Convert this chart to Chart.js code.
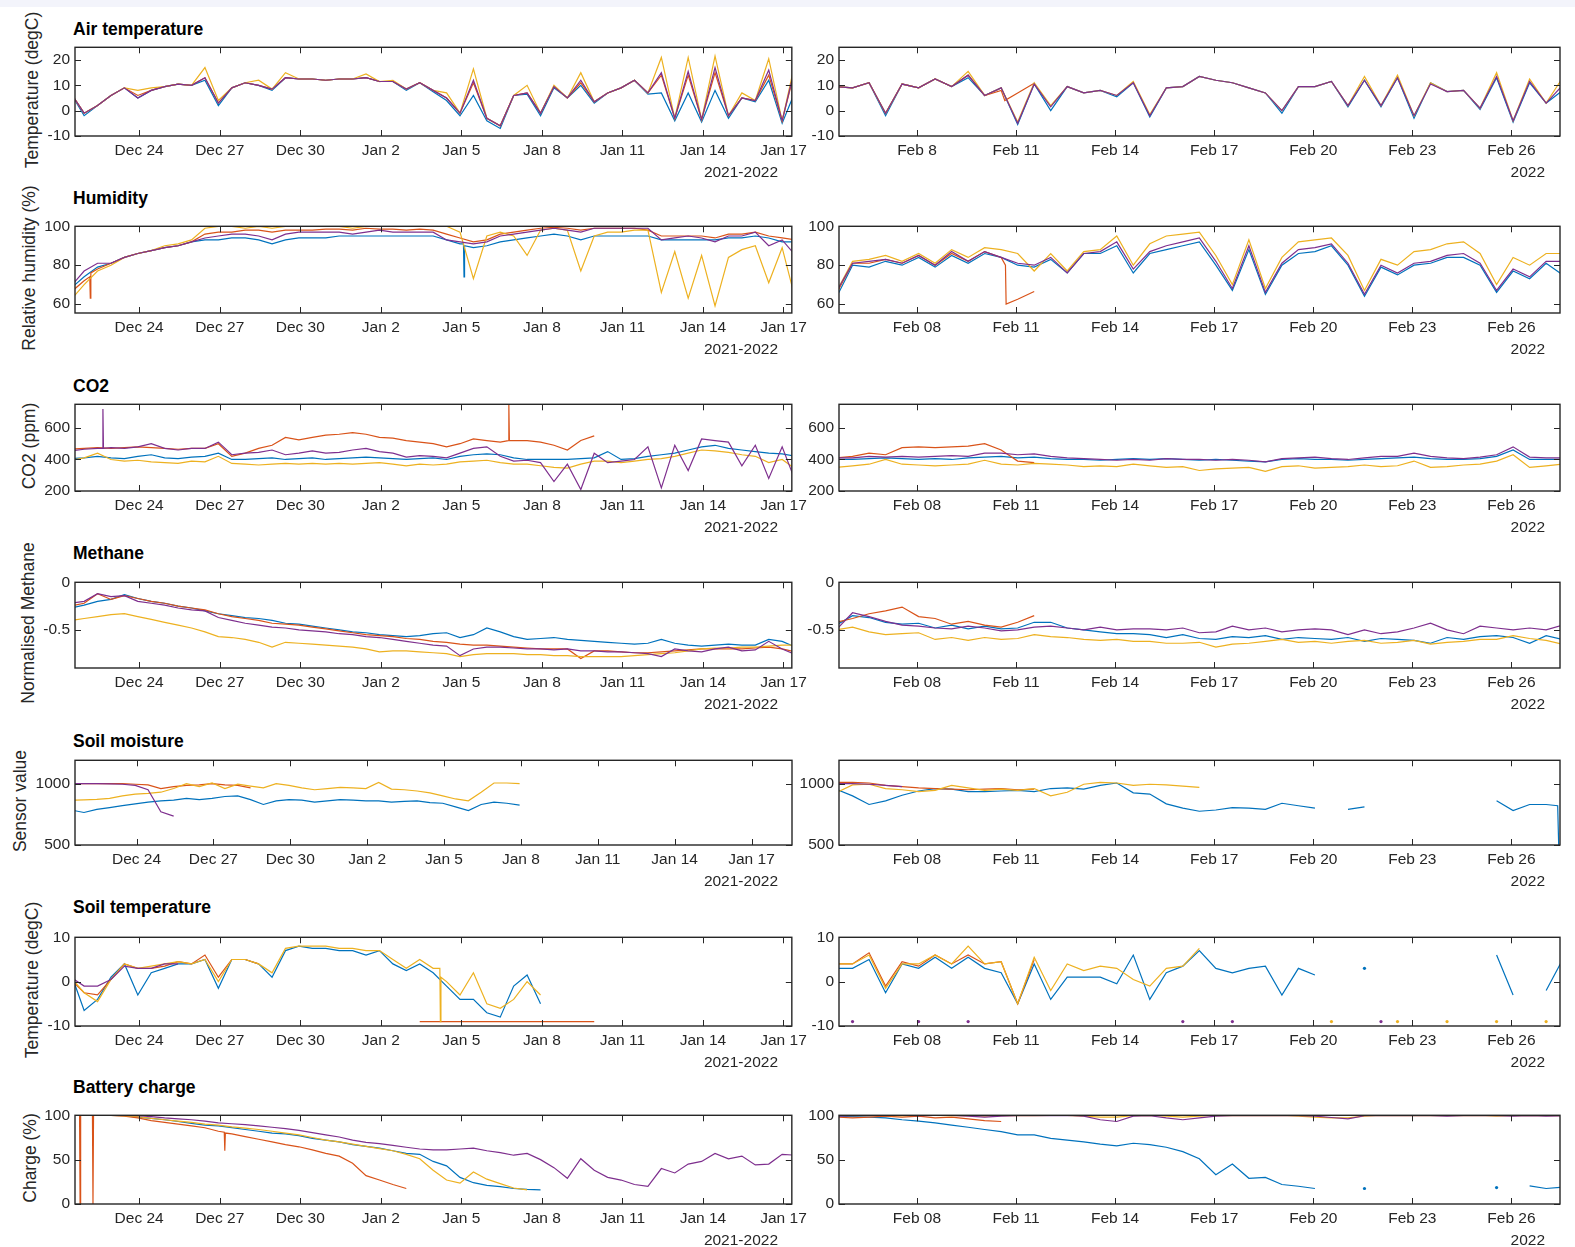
<!DOCTYPE html>
<html>
<head>
<meta charset="utf-8">
<script src="https://cdn.jsdelivr.net/npm/chart.js@4.4.1/dist/chart.umd.min.js"></script>
<style>
body { margin:0; width:1575px; height:1247px; background:#fff; position:relative; overflow:hidden; font-family:"Liberation Sans", Arial, sans-serif; }
.topbar { position:absolute; left:0; top:0; width:1575px; height:7px; background:#f3f4fb; }
canvas { position:absolute; }
.ttl { position:absolute; left:73px; font-weight:bold; font-size:17.5px; color:#000; transform:translateY(-50%); white-space:nowrap; }
.ylab { position:absolute; font-size:17.5px; color:#262626; white-space:nowrap; transform:translate(-50%,-50%) rotate(-90deg); }
.yr { position:absolute; font-size:15.5px; color:#262626; transform:translateY(-50%); white-space:nowrap; }
</style>
</head>
<body>
<div class="topbar"></div>
<script>
// sample times in days from 1 Jan 2022 (left: Dec-Jan, right: February)
const leftTimes = [-10.55,-10.05,-9.55,-9.05,-8.55,-8.05,-7.55,-7.05,-6.55,-6.05,-5.55,-5.05,-4.55,-4.05,-3.55,-3.05,-2.55,-2.05,-1.55,-1.05,-0.55,-0.05,0.45,0.95,1.45,1.95,2.45,2.95,3.45,3.95,4.45,4.95,5.45,5.95,6.45,6.95,7.45,7.95,8.45,8.95,9.45,9.95,10.45,10.95,11.45,11.95,12.45,12.95,13.45,13.95,14.45,14.95,15.45,15.95,16.45];
const rightTimes = [35.55,36.05,36.55,37.05,37.55,38.05,38.55,39.05,39.55,40.05,40.55,41.05,41.55,42.05,42.55,43.05,43.55,44.05,44.55,45.05,45.55,46.05,46.55,47.05,47.55,48.05,48.55,49.05,49.55,50.05,50.55,51.05,51.55,52.05,52.55,53.05,53.55,54.05,54.55,55.05,55.55,56.05,56.55,57.05,57.55];

const leftTickVals = [-8,-5,-2,1,4,7,10,13,16];
const leftTickLabels = ['Dec 24','Dec 27','Dec 30','Jan 2','Jan 5','Jan 8','Jan 11','Jan 14','Jan 17'];
const rightTickVals = [38,41,44,47,50,53,56];
const rightTickLabels = ['Feb 08','Feb 11','Feb 14','Feb 17','Feb 20','Feb 23','Feb 26'];
const rightTickLabelsAir = ['Feb 8','Feb 11','Feb 14','Feb 17','Feb 20','Feb 23','Feb 26'];

// Air temperature
const airL_blue = [7,-2,2,6,9,5,8,9.5,10.5,10,12,2,9,11,10,8,13,12.5,12.5,12,12.5,12.5,13,11.5,11.5,8,11,7.5,4,-2,6,-4,-7,6,6.5,-2,9,5,10,3,7,9,12,6.5,7,-4,7,-4.5,8,-3,5,3.5,12,-5,8];
const airL_orange = [7,-1,2,6,9,6,8,9.5,10.5,10,13,3,9,11,10,8.5,13,12.5,12.5,12,12.5,12.5,13,11.5,11.5,8.5,11,8,5,-1,11,-3,-6,6,7,-1,9.5,5,11,3.5,7,9,12,7,14,-3,14,-3.5,15,-2,5,4,14,-4,17];
const airL_yellow = [7,-1,2,6,9,8,9,9.5,10.5,10,17,4,9,11,12,8.5,15,12.5,12.5,12,12.5,12.5,14.5,11.5,12,8.5,11,8,7,-1,16.5,-3,-6,6,10,-1,10,5,15,3.5,7,9,12,7,21,-3,21,-3.5,21.5,-2,7,4,20.5,-4,20];
const airL_purple = [7,-1,2,6,9,5,8,9.5,10.5,10,13,3,9,11,10,8.5,13,12.5,12.5,12,12.5,12.5,13,11.5,11.5,8.5,11,8,5,-1,12,-3,-6,6,7,-1,9.5,5,12,3.5,7,9,12,7,15,-3,15.5,-3.5,17,-2,5,4,16,-4,18];
const airR_blue = [9.5,9,11,-2,10.5,9,12.5,9.5,13,6,9,-5.5,10.5,0,9.5,7,8,5.5,11,-2.5,9,9.5,13.5,12,11,9,7,-1,9.5,9.5,11.5,1.5,12,1.5,13,-3,11,7.5,8,0.5,13,-4.5,11,3,8];
const airR_orange = [9.5,9,11,-1,10.5,9,12.5,9.5,14,6,8,7,10.8];
const airR_orangeExtra = [[40.66,4]];
const airR_yellow = [9.5,9,11,-1,10.5,9,12.5,9.5,15.5,6,9,-4.5,11,2,9.5,7,8,6,11.5,-1.5,9,9.5,13.5,12,11,9,7,0,9.5,9.5,11.5,2,13.5,2,14,-2,11,7.5,8,1,15,-4,12.5,3,13];
const airR_purple = [9.5,9,11,-1,10.5,9,12.5,9.5,14,6,9,-5,10.5,1.5,9.5,7,8,6,11,-2,9,9.5,13.5,12,11,9,7,0,9.5,9.5,11.5,2,12,2,13,-2,10.5,7.5,8,1,13.5,-4,11.5,3,10];

// Humidity
const humL_blue = [68,74,79,81,84,86,87.5,89,90,92,93,93,94,94,93,91,93,94,94,94,95,95,95,95,95,95,95,95,93,91,89,90,92,93,94,95,96,95,93,95,95,95,95,95,93,93,93,93,93,94,94,95,94,92,92];
const humL_blueExtra = [[4.08,91],[4.10,74],[4.12,90]];
const humL_orange = [66,72,78,81,84,86,87.5,89,90,92,96,97,97,98,98,97,98,98,98,98.5,98.5,98,99,98.5,98.5,98,98.5,98,96,94,92,93,96,97,98,99,99.5,99,98,99,99,99,99,98,95,95,95,95,94,96,96,97,95,94,93];
const humL_orangeExtra = [[-9.84,74],[-9.82,63],[-9.80,76]];
const humL_yellow = [62,70,77,80,84,86,87.5,90,91,93,99,100,100,99,100,99,100,100,100,100,100,99,100,100,100,100,100,100,100,97,73,95,97,95,85,98,99,98,77,95,97,97,98,98,66,87,63,85,59,84,88,90,71,89,62];
const humL_purple = [69,77,81,81,84,86,87.5,89,90,92,94,95,96,96,95,93,96,97,97,97,97,96,97,98,97,97,97,97,93,92,91,92,95,96,97,98,99,98,97,99,99,99,99,99,93,94,95,94,92,95,95,97,90,93,85];
const humR_blue = [63,80,79,82,80,84,79,85,81,86,84,80,79,83,76,86,86,90,76,86,88,90,92,80,67,88,65,80,86,87,90,80,64,79,75,80,81,84,84,80,66,77,73,81,75];
const humR_orange = [65,81,81,83,81,85,80,86,82,87,84,62.5,66.5];
const humR_orangeExtra = [[40.68,80],[40.70,60]];
const humR_yellow = [66,82,83,85,82,86,81,88,84,89,88,86,77,86,77,87,88,95,80,91,95,96,97,85,70,93,68,84,92,93,94,85,67,83,80,87,88,91,92,86,70,84,80,86,86];
const humR_purple = [66,81,82,83,81,85,80,87,82,87,84,81,80,84,76,86,87,92,78,87,90,92,94,82,68,90,66,81,88,89,91,81,65,80,76,81,82,85,86,81,67,78,74,82,82];

// CO2
const co2L_blue = [405,410,420,410,405,420,430,410,405,415,420,440,400,400,405,410,400,405,410,400,405,410,415,410,405,400,405,410,400,420,430,435,430,410,400,400,400,400,405,410,450,400,405,420,430,440,460,480,490,470,460,450,440,435,420];
const co2L_orange = [465,470,475,470,475,480,475,470,465,470,470,500,420,440,470,490,540,525,540,555,560,570,560,540,535,520,510,500,480,500,530,520,510,520,520,510,490,460,520,550];
const co2L_orangeExtra = [[5.75,520],[5.77,750],[5.79,520]];
const co2L_yellow = [395,410,440,400,390,395,385,380,375,390,385,420,375,370,365,370,375,370,375,370,375,370,375,380,370,360,370,365,370,385,390,395,380,370,370,360,350,345,370,390,390,380,390,400,405,420,440,460,455,445,430,420,380,400,340];
const co2L_purple = [455,465,470,475,470,480,500,470,460,470,470,510,430,440,445,460,430,440,455,440,445,460,470,450,440,415,425,420,410,440,470,480,420,390,395,380,260,370,210,440,380,390,400,480,220,490,330,530,520,510,360,490,280,480,260];
const co2L_purpleExtra = [[-9.37,470],[-9.35,720],[-9.33,470]];
const co2R_blue = [400,400,405,410,405,400,405,400,410,415,420,410,415,405,400,400,395,400,405,400,405,400,395,400,395,390,385,400,405,400,400,395,400,405,410,415,405,400,400,405,420,460,400,400,400];
const co2R_orange = [410,420,440,430,475,480,475,480,485,500,460,390,380];
const co2R_yellow = [350,360,370,400,370,365,360,365,370,395,370,365,375,370,365,355,360,355,370,360,350,355,330,340,345,350,325,355,360,345,350,355,365,355,360,390,350,355,365,370,390,430,350,360,370];
const co2R_purple = [410,410,420,415,420,415,420,425,420,440,440,430,435,420,410,405,400,395,400,395,405,400,400,395,400,395,385,405,410,415,405,400,410,420,420,440,420,410,405,415,430,480,415,410,410];

// Methane
const methL_blue = [-0.27,-0.24,-0.2,-0.18,-0.13,-0.17,-0.2,-0.22,-0.25,-0.27,-0.3,-0.33,-0.35,-0.37,-0.38,-0.4,-0.43,-0.44,-0.46,-0.48,-0.5,-0.52,-0.53,-0.55,-0.56,-0.57,-0.56,-0.54,-0.53,-0.58,-0.55,-0.48,-0.52,-0.57,-0.6,-0.59,-0.58,-0.6,-0.61,-0.62,-0.63,-0.64,-0.65,-0.64,-0.6,-0.64,-0.66,-0.67,-0.66,-0.65,-0.66,-0.66,-0.6,-0.62,-0.68];
const methL_orange = [-0.25,-0.22,-0.12,-0.18,-0.14,-0.17,-0.2,-0.22,-0.25,-0.27,-0.29,-0.33,-0.36,-0.38,-0.4,-0.43,-0.44,-0.45,-0.47,-0.49,-0.51,-0.53,-0.55,-0.56,-0.57,-0.59,-0.6,-0.62,-0.63,-0.65,-0.66,-0.66,-0.67,-0.68,-0.69,-0.7,-0.7,-0.7,-0.8,-0.72,-0.72,-0.73,-0.74,-0.74,-0.73,-0.72,-0.71,-0.7,-0.7,-0.7,-0.7,-0.69,-0.68,-0.7,-0.73];
const methL_yellow = [-0.4,-0.38,-0.36,-0.34,-0.33,-0.36,-0.39,-0.42,-0.45,-0.48,-0.52,-0.57,-0.58,-0.6,-0.63,-0.68,-0.63,-0.64,-0.65,-0.66,-0.67,-0.68,-0.7,-0.73,-0.72,-0.72,-0.73,-0.74,-0.75,-0.78,-0.76,-0.75,-0.75,-0.75,-0.76,-0.76,-0.77,-0.77,-0.78,-0.78,-0.78,-0.78,-0.77,-0.76,-0.75,-0.74,-0.72,-0.7,-0.69,-0.69,-0.68,-0.68,-0.67,-0.66,-0.66];
const methL_purple = [-0.22,-0.2,-0.12,-0.15,-0.14,-0.2,-0.22,-0.24,-0.27,-0.29,-0.3,-0.37,-0.4,-0.43,-0.45,-0.47,-0.48,-0.5,-0.51,-0.52,-0.54,-0.55,-0.57,-0.58,-0.6,-0.62,-0.64,-0.66,-0.67,-0.77,-0.7,-0.68,-0.68,-0.69,-0.7,-0.7,-0.71,-0.7,-0.72,-0.72,-0.73,-0.73,-0.74,-0.75,-0.78,-0.7,-0.72,-0.73,-0.7,-0.68,-0.72,-0.71,-0.62,-0.7,-0.76];
const methR_blue = [-0.45,-0.35,-0.37,-0.42,-0.44,-0.43,-0.48,-0.45,-0.49,-0.46,-0.49,-0.48,-0.42,-0.42,-0.48,-0.5,-0.52,-0.54,-0.54,-0.55,-0.58,-0.55,-0.59,-0.6,-0.57,-0.58,-0.56,-0.6,-0.58,-0.59,-0.6,-0.58,-0.62,-0.59,-0.6,-0.61,-0.64,-0.58,-0.6,-0.57,-0.56,-0.58,-0.64,-0.56,-0.6];
const methR_orange = [-0.42,-0.38,-0.33,-0.3,-0.26,-0.36,-0.38,-0.44,-0.41,-0.45,-0.47,-0.42,-0.35];
const methR_yellow = [-0.5,-0.47,-0.52,-0.55,-0.54,-0.53,-0.6,-0.58,-0.61,-0.58,-0.6,-0.59,-0.55,-0.57,-0.58,-0.6,-0.61,-0.6,-0.62,-0.62,-0.64,-0.64,-0.63,-0.68,-0.65,-0.64,-0.62,-0.6,-0.63,-0.62,-0.64,-0.62,-0.61,-0.64,-0.63,-0.61,-0.65,-0.63,-0.62,-0.6,-0.6,-0.56,-0.59,-0.61,-0.65];
const methR_purple = [-0.5,-0.32,-0.36,-0.41,-0.45,-0.46,-0.48,-0.49,-0.46,-0.48,-0.51,-0.5,-0.47,-0.46,-0.48,-0.5,-0.47,-0.5,-0.49,-0.49,-0.5,-0.48,-0.53,-0.52,-0.46,-0.5,-0.48,-0.52,-0.5,-0.49,-0.5,-0.55,-0.5,-0.54,-0.52,-0.48,-0.43,-0.5,-0.54,-0.46,-0.48,-0.5,-0.48,-0.5,-0.45];

// Soil moisture
const soilL_blue = [785,765,790,805,820,835,850,860,865,880,870,880,895,900,870,830,860,870,865,850,860,870,865,860,860,850,855,860,845,840,810,780,830,850,840,825];
const soilL_orange = [1000,1000,1000,1000,1000,995,990,960,975,985,990,1000,990,985,965];
const soilL_yellow = [865,868,872,880,900,915,920,930,960,1000,975,1005,960,995,980,965,1000,985,965,950,960,970,965,960,1010,955,950,940,925,900,875,860,930,1005,1005,1000];
const soilL_purple = [1000,1000,1000,998,995,985,950,770,735];
const soilR_blue = [955,900,830,860,905,940,960,955,935,935,940,945,935,960,965,955,985,1005,925,915,835,800,775,785,805,800,790,840,820,800,null,790,810,null,null,null,null,null,null,null,860,780,830,830];
const soilR_blueExtra = [[57.40,820],[57.43,500]];
const soilR_orange = [1010,1010,1005,985,975,965,960,955,950,955,960,950,955];
const soilR_yellow = [925,990,995,960,950,935,945,985,965,945,955,945,960,900,930,995,1010,1005,985,995,990,980,970];
const soilR_purple = [1000,1000,995,985,975];

// Soil temperature
const stL_blue = [2,-6.5,-4,1,4,-3,2,3,4,4,5,-1.5,5,5,4,1,7,8,7.5,7.5,7,7,6,7,4,2.5,4,2,-1,-4,-4,-7,-8,-1,1.5,-5];
const stL_orange = [0.5,-2.5,-3,0.5,4,3,3,3.5,4.5,4,6,1,5,5,4,null,null,null,null,null,null,null,null,null,null,null,-9,-9,-9,-9,-9,-9,-9,-9,-9,-9,-9,-9,-9,-9];
const stL_yellow = [1,-2.5,-4.5,0.5,4,3,3.5,4,4.5,4,5,0,5,5,4,2,7.5,8,8,8,7.5,7.5,7,7,5,3,5,3,0,-3,2,-5,-6,-4,0,-3];
const stL_yellowExtra = [[3.20,3],[3.22,-9],[3.24,1]];
const stL_purple = [1,-1,-1,0.5,3.5,3,3,4,4];
const stR_blue = [3,3,5,-2.5,4,3,5.5,3,5.5,3,2,-5,4,-4,1,1,1,-0.5,6,-4,2,3.5,7,3,2,3,3.5,-3,3,1.5,null,null,3,null,null,null,null,null,null,null,6,-3,null,-2,5];
const stR_orange = [4,4,6.5,-1,4.5,3.5,6,4,6,4,4.5,-5,5];
const stR_yellow = [4,4,6,-1.5,4,4,6,4,8,4,4.5,-5,5.5,-2,4,2.5,3.5,3,0.5,-1,3,3.5,7.5,null,null,null,null,null,null,null,-9,null,null,null,-9,null,null,-9,null,null,-9,null,null,-9];
const stR_purple = [null,-9,null,null,null,-9,null,null,-9,null,null,null,null,null,null,null,null,null,null,null,null,-9,null,null,-9,null,null,null,null,null,null,null,null,-9];

// Battery charge
const batL_blue = [100,100,100,100,99.5,98,96.5,95,93,91,89,88,86,84,82,80,79,77,74,72,70,67,65,63,60,57,56,48,43,30,24,21,19.5,17.5,16.5,16];
const batL_orange = [100,100,100,100,99,97,94,92,90,88,86,82,79,76,73,70,67,64.5,61,57,54,46,32,27,22,17.5];
const batL_orangeExtra = [[-10.22,100],[-10.2,0],[-10.18,100],[-9.74,100],[-9.72,0],[-9.70,100],[-4.83,81],[-4.81,60],[-4.79,80]];
const batL_yellow = [100,100,100,100,99.5,98.5,96.5,95,93.5,92,90,89,87,85.5,84,82,80,78,75,72,70,67.5,65,62.5,60,56,51,38,27,23.5,36,28,23,18,16];
const batL_purple = [100,100,100,100,100,99.5,98.5,97,96,95,93.5,91.5,90.5,89.5,88,86.5,85,83,80.5,78,75.5,72,69.5,68,66,64,62,61,61,62,63,60,58,55,57,50,41,29,51,38,30,27,22,20,40,35,45,48,57,51,54,44,45,56,55];
const batR_blue = [99,98.5,98,97,95,93.5,91.5,89,86.5,84,81.5,78,78,74,72,70,67.5,65.5,68.5,67,64,59,51,33,45,29,30,22,20,17.5,null,null,17.5,null,null,null,null,null,null,null,18.5,null,20.5,17.5,19];
const batR_orange = [98,97,98,99,98,99,97,98,96,94,93];
const batR_yellow = [100,99.5,100,100,99.5,100,100,99.5,100,99,99.5,100,99.5,100,100,99,98,98,99.5,100,99,98,99,100,99.5,100,99.5,100,99,98,97,97,99,100,99.5,100,99.5,100,99.5,100,99,100,99.5,100,99.5];
const batR_purple = [99,99.5,100,100,100,99.5,100,100,99,98,99,99.5,100,99.5,100,99,95,93,99,99.5,97,95,97,99,99.5,100,99.5,100,99.5,99,97.5,96,99.5,100,99.5,100,99.5,99,99.5,100,99.5,99,99.5,99,99.5];

const colors = ['#0072BD', '#D95319', '#EDB120', '#7E2F8E'];

const panels = [
  { title: 'Air temperature', ylabel: 'Temperature (degC)', yMin: -10, yMax: 25, yTicks: [-10, 0, 10, 20],
    left: [[airL_blue], [airL_orange], [airL_yellow], [airL_purple]],
    right: [[airR_blue], [airR_orange, airR_orangeExtra], [airR_yellow], [airR_purple]], rightLabels: rightTickLabelsAir },
  { title: 'Humidity', ylabel: 'Relative humidity (%)', yMin: 55.4, yMax: 100, yTicks: [60, 80, 100],
    left: [[humL_blue, humL_blueExtra], [humL_orange, humL_orangeExtra], [humL_yellow], [humL_purple]],
    right: [[humR_blue], [humR_orange, humR_orangeExtra], [humR_yellow], [humR_purple]] },
  { title: 'CO2', ylabel: 'CO2 (ppm)', yMin: 200, yMax: 750, yTicks: [200, 400, 600],
    left: [[co2L_blue], [co2L_orange, co2L_orangeExtra], [co2L_yellow], [co2L_purple, co2L_purpleExtra]],
    right: [[co2R_blue], [co2R_orange], [co2R_yellow], [co2R_purple]] },
  { title: 'Methane', ylabel: 'Normalised Methane', yMin: -0.9, yMax: 0, yTicks: [-0.5, 0],
    left: [[methL_blue], [methL_orange], [methL_yellow], [methL_purple]],
    right: [[methR_blue], [methR_orange], [methR_yellow], [methR_purple]] },
  { title: 'Soil moisture', ylabel: 'Sensor value', yMin: 500, yMax: 1190, yTicks: [500, 1000], leftMax: 17.58, leftMin: -10.4,
    left: [[soilL_blue], [soilL_orange], [soilL_yellow], [soilL_purple]],
    right: [[soilR_blue, soilR_blueExtra], [soilR_orange], [soilR_yellow], [soilR_purple]] },
  { title: 'Soil temperature', ylabel: 'Temperature (degC)', yMin: -10, yMax: 10, yTicks: [-10, 0, 10],
    left: [[stL_blue], [stL_orange], [stL_yellow, stL_yellowExtra], [stL_purple]],
    right: [[stR_blue], [stR_orange], [stR_yellow], [stR_purple]] },
  { title: 'Battery charge', ylabel: 'Charge (%)', yMin: 0, yMax: 100, yTicks: [0, 50, 100],
    left: [[batL_blue], [batL_orange, batL_orangeExtra], [batL_yellow], [batL_purple]],
    right: [[batR_blue], [batR_orange], [batR_yellow], [batR_purple]] }
];

const plotTop = [43, 222, 400, 578, 756, 933, 1111];
const plotBottom = [136, 313, 491, 668, 845, 1026, 1204];
const titleY = [29, 198, 386, 553, 741, 907, 1087];
const ylabX = [32, 29, 29, 28, 20, 32, 30];

Chart.defaults.font.family = '"Liberation Sans", Arial, sans-serif';
Chart.defaults.color = '#262626';

const matlabAxes = {
  id: 'matlabAxes',
  afterDraw(chart) {
    const { ctx, chartArea: a, scales: { x, y } } = chart;
    ctx.save();
    ctx.strokeStyle = '#262626';
    ctx.lineWidth = 1;
    ctx.beginPath();
    x.ticks.forEach(t => {
      const p = Math.round(x.getPixelForValue(t.value)) + 0.5;
      ctx.moveTo(p, a.bottom); ctx.lineTo(p, a.bottom - 6);
      ctx.moveTo(p, a.top); ctx.lineTo(p, a.top + 6);
    });
    y.ticks.forEach(t => {
      const p = Math.round(y.getPixelForValue(t.value)) + 0.5;
      ctx.moveTo(a.left, p); ctx.lineTo(a.left + 6, p);
      ctx.moveTo(a.right, p); ctx.lineTo(a.right - 6, p);
    });
    ctx.stroke();
    ctx.lineWidth = 1.4;
    ctx.strokeRect(a.left, a.top, a.right - a.left, a.bottom - a.top);
    ctx.restore();
  }
};

function points(times, vals, extra) {
  const pts = vals.map((v, i) => ({ x: times[i], y: v }));
  (extra || []).forEach(p => pts.push({ x: p[0], y: p[1] }));
  pts.sort((a, b) => a.x - b.x);
  return pts;
}

function isolatedRadius(ctx) {
  const d = ctx.dataset.data, i = ctx.dataIndex;
  if (!d[i] || d[i].y == null) return 0;
  const prev = d[i - 1], next = d[i + 1];
  const lone = (!prev || prev.y == null) && (!next || next.y == null);
  return lone ? 1.6 : 0;
}

function addText(cls, text, style) {
  const el = document.createElement('div');
  el.className = cls;
  el.textContent = text;
  Object.assign(el.style, style);
  document.body.appendChild(el);
}

function makeChart(p, r, side) {
  const isLeft = side === 'left';
  const plotL = isLeft ? 75 : 839;
  const plotR = isLeft ? 792 : 1560;
  const yw = isLeft ? 75 : 60;
  const padR = isLeft ? 20 : 15;
  const canvas = document.createElement('canvas');
  const w = yw + (plotR - plotL) + padR;
  const h = 10 + (plotBottom[r] - plotTop[r]) + 32;
  canvas.width = w; canvas.height = h;
  canvas.style.left = (plotL - yw) + 'px';
  canvas.style.top = (plotTop[r] - 10) + 'px';
  document.body.appendChild(canvas);

  const times = isLeft ? leftTimes : rightTimes;
  const tickVals = isLeft ? leftTickVals : rightTickVals;
  const tickLabels = isLeft ? leftTickLabels : (p.rightLabels || rightTickLabels);
  const xMin = isLeft ? (p.leftMin !== undefined ? p.leftMin : -10.39) : 35.64;
  const xMax = isLeft ? (p.leftMax !== undefined ? p.leftMax : 16.31) : 57.47;

  const datasets = p[side].map((s, k) => ({
    data: points(times, s[0], s[1]),
    borderColor: colors[k],
    backgroundColor: colors[k],
    borderWidth: 1.2,
    pointRadius: isolatedRadius,
    pointBorderWidth: 0,
    pointHoverRadius: 0,
    spanGaps: false,
    tension: 0,
    order: 4 - k
  }));

  new Chart(canvas, {
    type: 'line',
    data: { datasets },
    options: {
      responsive: false,
      animation: false,
      devicePixelRatio: 1,
      layout: { padding: { top: 10, right: padR, left: 0, bottom: 0 } },
      plugins: { legend: { display: false }, tooltip: { enabled: false } },
      scales: {
        x: {
          type: 'linear', min: xMin, max: xMax,
          afterBuildTicks: ax => { ax.ticks = tickVals.map(v => ({ value: v })); },
          afterFit: ax => { ax.height = 32; },
          grid: { display: false, drawTicks: false },
          border: { display: false },
          ticks: {
            autoSkip: false, maxRotation: 0, minRotation: 0, padding: 5,
            color: '#262626', font: { size: 15.5 },
            callback: v => tickLabels[tickVals.indexOf(v)]
          }
        },
        y: {
          type: 'linear', min: p.yMin, max: p.yMax,
          afterBuildTicks: ax => { ax.ticks = p.yTicks.map(v => ({ value: v })); },
          afterFit: ax => { ax.width = yw; },
          grid: { display: false, drawTicks: false },
          border: { display: false },
          ticks: { padding: 5, color: '#262626', font: { size: 15.5 }, callback: v => String(v) }
        }
      }
    },
    plugins: [matlabAxes]
  });

  addText('yr', isLeft ? '2021-2022' : '2022', {
    right: (1575 - (isLeft ? 778 : 1545)) + 'px',
    top: (plotBottom[r] + 36) + 'px'
  });
}

panels.forEach((p, r) => {
  addText('ttl', p.title, { top: titleY[r] + 'px' });
  addText('ylab', p.ylabel, { left: ylabX[r] + 'px', top: ((plotTop[r] + plotBottom[r]) / 2) + 'px' });
  makeChart(p, r, 'left');
  makeChart(p, r, 'right');
});
</script>
</body>
</html>
